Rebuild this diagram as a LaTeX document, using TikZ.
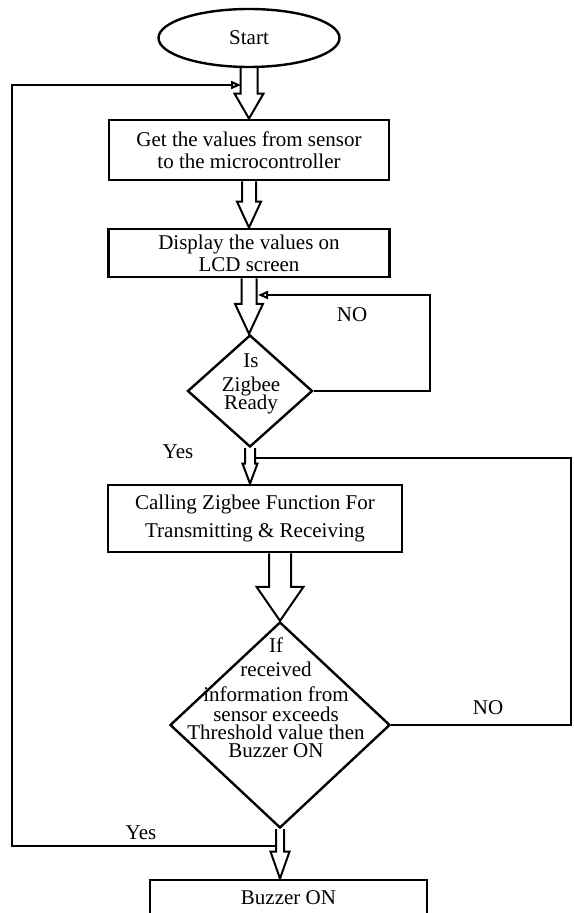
\documentclass[tikz,border=0pt]{standalone}
\usepackage{fontspec}
\setmainfont{Liberation Serif}
\usetikzlibrary{shapes.geometric,calc,arrows.meta}
\tikzstyle{stepbox}=[rectangle, draw, line width=1.4pt, inner sep=0pt, align=center]
\tikzstyle{decision}=[diamond, draw, line width=1.2pt, inner sep=0pt]
\tikzstyle{terminal}=[ellipse, draw, line width=1.2pt, inner sep=0pt]
\tikzstyle{loopline}=[line width=1pt]
\tikzstyle{word}=[inner sep=0pt, align=center]
\tikzstyle{backtip}=[-{Triangle[open,length=5pt,width=4pt]}]
%% hollow block arrow: #1 from, #2 to (same x), #3 half shaft, #4 half head, #5 head length
\newcommand{\fatarrow}[5]{%
  \draw[line width=1pt] let \p1=(#1), \p2=(#2) in
    (\x1-#3,\y1) -- (\x1-#3,\y2+#5) -- (\x1-#4,\y2+#5) -- (\x1,\y2)
    -- (\x1+#4,\y2+#5) -- (\x1+#3,\y2+#5) -- (\x1+#3,\y1);}

\begin{document}
\begin{tikzpicture}[x=0.5pt,y=-0.5pt,font=\fontsize{10.5}{11}\selectfont]
	\useasboundingbox (0,0) rectangle (573,913);
	%% the steps, top to bottom
	\node[terminal, minimum width=90.5pt, minimum height=29pt] (start) at (249,38) {Start};
	\node[stepbox, minimum width=140pt, minimum height=30pt] (box1) at (249,150)
		{Get the values from sensor\\to the microcontroller};
	\node[stepbox, minimum width=140.5pt, minimum height=24pt] (box2) at (249,253)
		{Display the values on\\LCD screen};
	\node[decision, minimum width=62.5pt, minimum height=56pt] (dia1) at (250,391) {};
	\node[word] (dia1txt) at (251,384) {Is\\[1pt]Zigbee\\[-2pt]Ready};
	\node[stepbox, minimum width=147pt, minimum height=33.5pt] (box3) at (255,518.5)
		{Calling Zigbee Function For\\[3pt]Transmitting \& Receiving};
	\node[decision, minimum width=110pt, minimum height=103pt] (dia2) at (280,725) {};
	\node[word] (dia2txt) at (276,698)
		{If\\[1pt]received\\[1.5pt]information from\\[-1pt]sensor exceeds\\[-2pt]Threshold value then\\[-2pt]Buzzer ON};
	%% last box runs off the bottom edge, as in the original
	\node[stepbox, minimum width=138.5pt, minimum height=18pt] (box4) at (288.5,898) {Buzzer ON};

	%% labels on the branches
	\node[word] (no1) at (352,315) {NO};
	\node[word] (yes1) at (178,452) {Yes};
	\node[word] (no2) at (488,708) {NO};
	\node[word] (yes2) at (141,833) {Yes};

	%% the main flow
	\fatarrow{start.south}{box1.north}{4.25pt}{7.25pt}{12.5pt}
	\fatarrow{box1.south}{box2.north}{3.5pt}{6pt}{13pt}
	\fatarrow{box2.south}{dia1.north}{3.75pt}{7pt}{15pt}
	\fatarrow{dia1.south}{box3.north -| dia1.south}{2.5pt}{3.75pt}{10pt}
	\fatarrow{box3.south -| dia2.north}{dia2.north}{5.5pt}{11.75pt}{17pt}
	\fatarrow{dia2.south}{box4.north -| dia2.south}{2pt}{4.75pt}{13.5pt}

	%% loops back into the shafts
	\coordinate (n1corner) at (430,295);
	\coordinate (n1in) at (258,295);
	\coordinate (n2corner) at (571,458);
	\coordinate (n2in) at (256,458);
	\coordinate (yout) at (277,846);
	\coordinate (ycorner) at (12,85);
	\coordinate (yin) at (241,85);
	\draw[loopline, backtip] (dia1.east) -| (n1corner) -- (n1in);
	\draw[loopline] (dia2.east) -| (n2corner) -- (n2in);
	\draw[loopline, backtip] (yout) -| (ycorner) -- (yin);
\end{tikzpicture}
\end{document}
